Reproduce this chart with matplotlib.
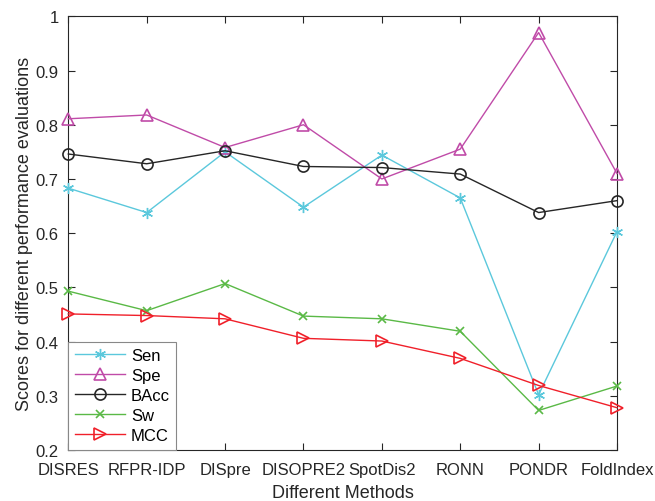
import matplotlib
matplotlib.use("Agg")
import matplotlib.pyplot as plt
import numpy as np

methods = ["DISRES", "RFPR-IDP", "DISpre", "DISOPRE2", "SpotDis2", "RONN", "PONDR", "FoldIndex"]
sen = [0.683, 0.638, 0.750, 0.648, 0.744, 0.665, 0.302, 0.603]
spe = [0.811, 0.818, 0.758, 0.800, 0.700, 0.755, 0.970, 0.710]
bacc = [0.746, 0.728, 0.752, 0.723, 0.721, 0.709, 0.638, 0.660]
sw = [0.493, 0.457, 0.507, 0.447, 0.442, 0.419, 0.273, 0.318]
mcc = [0.451, 0.448, 0.442, 0.406, 0.401, 0.369, 0.319, 0.278]
yticks = [0.2, 0.3, 0.4, 0.5, 0.6, 0.7, 0.8, 0.9, 1.0]
ytick_labels = ["0.2", "0.3", "0.4", "0.5", "0.6", "0.7", "0.8", "0.9", "1"]

plt.rcParams['font.family'] = ['Liberation Sans', 'DejaVu Sans']

fig = plt.figure(figsize=(6.55, 5.02), dpi=100)
ax = fig.add_axes([0.1043, 0.1016, 0.8377, 0.8639])
x = np.arange(1, len(methods) + 1)

kw = dict(lw=1, clip_on=False, zorder=3)
ax.plot(x, sen, color="#5BC8DC", marker=(6, 2, 0), markersize=8, label="Sen", markeredgewidth=1, **kw)
ax.plot(x, spe, color="#C04BA8", marker="^", markersize=9, label="Spe",
        markerfacecolor="none", markeredgewidth=1.2, **kw)
ax.plot(x, bacc, color="#262626", marker="o", markersize=8, label="BAcc",
        markerfacecolor="none", markeredgewidth=1.2, **kw)
ax.plot(x, sw, color="#5AB946", marker="x", markersize=6, label="Sw", markeredgewidth=1.2, **kw)
ax.plot(x, mcc, color="#F0202A", marker=">", markersize=9, label="MCC",
        markerfacecolor="none", markeredgewidth=1.2, **kw)

ax.set_xlim(1, len(methods))
ax.set_ylim(0.2, 1.0)
ax.set_xticks(x)
ax.set_xticklabels(methods, fontsize=12)
ax.set_yticks(yticks)
ax.set_yticklabels(ytick_labels, fontsize=12)
ax.tick_params(direction="in", top=True, right=True, length=5, width=0.8, colors="#262626")
ax.tick_params(axis="x", pad=9)
ax.tick_params(axis="y", pad=7)
for s in ax.spines.values():
    s.set_color("#262626")
    s.set_linewidth(0.8)
ax.set_xlabel("Different Methods", fontsize=13, color="#262626", labelpad=5)
ax.set_ylabel("Scores for different performance evaluations", fontsize=13, color="#262626", labelpad=2)

leg = ax.legend(loc="lower left", fontsize=12, borderaxespad=0, fancybox=False,
                edgecolor="#888888", framealpha=1, handlelength=3.0, handletextpad=0.35,
                labelspacing=0.3, borderpad=0.4)
leg.get_frame().set_linewidth(0.8)
leg.set_zorder(5)

fig.savefig("out.png", dpi=100)
